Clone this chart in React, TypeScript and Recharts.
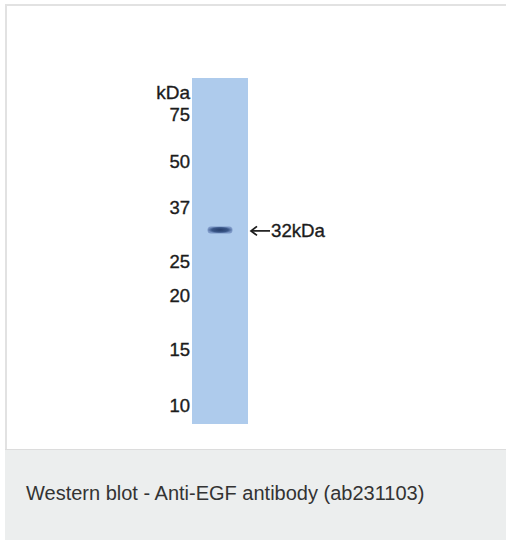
import { ComposedChart, ReferenceArea, Scatter, XAxis, YAxis } from "recharts";

// marker ladder, relative migration (0 = top of lane, 1 = bottom)
const unitLabel = "kDa";
const unitRf = 0.0425;
const markerKda = [75, 50, 37, 25, 20, 15, 10];
const markerRf = [0.106, 0.241, 0.375, 0.531, 0.629, 0.785, 0.946];

// detected band
const bandKda = [32];
const bandRf = [0.439];
const bandLane = [0.5];

const caption = "Western blot - Anti-EGF antibody (ab231103)";

const tickValues = [unitRf, ...markerRf];
const tickLabels = [unitLabel, ...markerKda.map(String)];

const bands = bandKda.map((kda, i) => ({ x: bandLane[i], y: bandRf[i], kda }));

const FONT = '"Liberation Sans", Arial, sans-serif';

function MarkerTick(props: any) {
  const { x, y, payload } = props;
  const i = tickValues.indexOf(payload.value);
  const label = i >= 0 ? tickLabels[i] : "";
  return (
    <text
      x={x}
      y={y}
      dy="0.35em"
      textAnchor="end"
      fontFamily={FONT}
      fontSize={label === unitLabel ? 19 : 18.5}
      fill="#1c1c1c"
      stroke="#1c1c1c"
      strokeWidth={0.35}
    >
      {label}
    </text>
  );
}

function BandShape(props: any) {
  const { cx, cy, payload } = props;
  const laneRight = cx + 28;
  return (
    <g>
      <rect x={cx - 12.5} y={cy - 3.5} width={25} height={7} rx={3.5} fill="url(#bandGrad)" />
      <line x1={laneRight + 3} y1={cy + 1} x2={laneRight + 22} y2={cy + 1} stroke="#1c1c1c" strokeWidth={1.7} />
      <path
        d={`M${laneRight + 9},${cy - 3.5} L${laneRight + 3},${cy + 1} L${laneRight + 9},${cy + 5.5}`}
        fill="none"
        stroke="#1c1c1c"
        strokeWidth={1.7}
      />
      <text
        x={laneRight + 23}
        y={cy + 7.5}
        fontFamily={FONT}
        fontSize={19}
        fill="#1c1c1c"
        stroke="#1c1c1c"
        strokeWidth={0.35}
        textLength={54}
        lengthAdjust="spacingAndGlyphs"
      >
        {`${payload.kda}kDa`}
      </text>
    </g>
  );
}

export default function App() {
  return (
    <div
      style={{
        position: "absolute",
        left: 0,
        top: 0,
        width: 506,
        height: 540,
        background: "#fff",
        fontFamily: FONT,
      }}
    >
      <div
        style={{
          position: "absolute",
          left: 5,
          top: 4,
          width: 501,
          height: 2,
          background: "#e2e2e2",
        }}
      />
      <div
        style={{
          position: "absolute",
          left: 5,
          top: 4,
          width: 2,
          height: 445,
          background: "#e2e2e2",
        }}
      />
      <div style={{ position: "absolute", left: 0, top: 0 }}>
        <ComposedChart
          width={506}
          height={450}
          data={bands}
          margin={{ top: 78, right: 258, bottom: 26, left: 132 }}
        >
          <defs>
            <radialGradient id="bandGrad" cx="50%" cy="50%" r="50%">
              <stop offset="0%" stopColor="#253d6b" />
              <stop offset="65%" stopColor="#3a5788" />
              <stop offset="100%" stopColor="#7b97c6" />
            </radialGradient>
          </defs>
          <XAxis type="number" dataKey="x" domain={[0, 1]} hide />
          <YAxis
            type="number"
            dataKey="y"
            domain={[0, 1]}
            reversed
            ticks={tickValues}
            interval={0}
            width={60}
            axisLine={false}
            tickLine={false}
            tickSize={0}
            tickMargin={2}
            tick={<MarkerTick />}
          />
          <ReferenceArea x1={0} x2={1} y1={0} y2={1} fill="#aecbec" fillOpacity={1} stroke="none" />
          <Scatter dataKey="y" shape={<BandShape />} isAnimationActive={false} />
        </ComposedChart>
      </div>
      <div
        style={{
          position: "absolute",
          left: 5,
          top: 449,
          width: 501,
          height: 91,
          background: "#eceeee",
          borderTop: "1px solid #dcdcdc",
          boxSizing: "border-box",
        }}
      >
        <div
          style={{
            position: "absolute",
            left: 21,
            top: 33,
            fontSize: 20,
            lineHeight: "20px",
            color: "#333",
            whiteSpace: "nowrap",
          }}
        >
          {caption}
        </div>
      </div>
    </div>
  );
}
